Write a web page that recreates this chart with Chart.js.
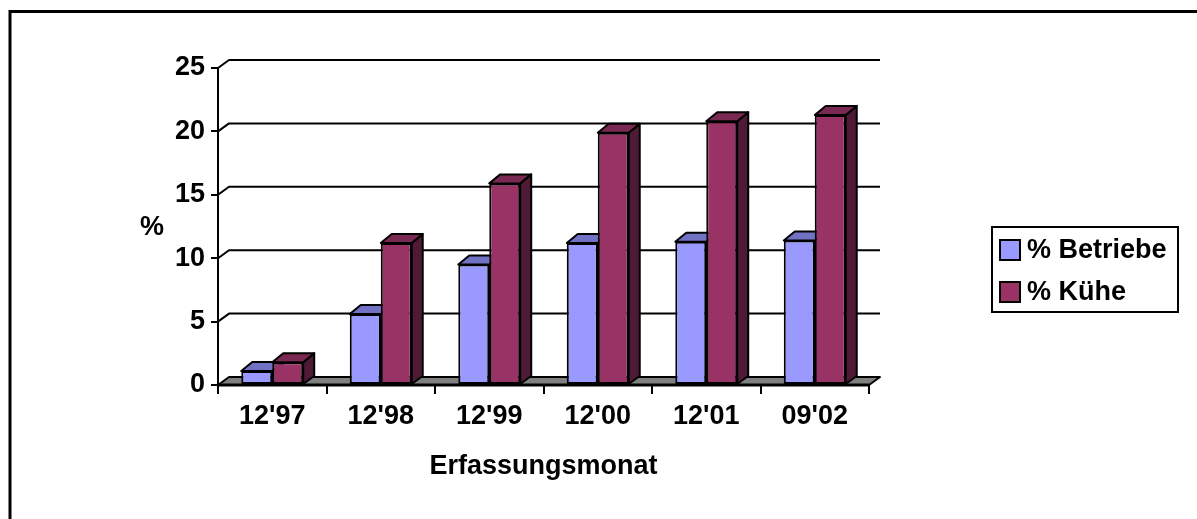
<!DOCTYPE html>
<html>
<head>
<meta charset="utf-8">
<script src="https://cdn.jsdelivr.net/npm/chart.js@4/dist/chart.umd.min.js"></script>
<style>
  body { margin: 0; background: #fff; }
  canvas { display: block; }
</style>
</head>
<body>
<canvas id="myChart" width="1197" height="519"></canvas>
<script>
'use strict';

// chart values
let months = ["12'97", "12'98", "12'99", "12'00", "12'01", "09'02"];
let betriebe = [1.1, 5.6, 9.5, 11.2, 11.3, 11.4];
let kuehe = [1.8, 11.2, 15.9, 19.9, 20.8, 21.3];
let seriesNames = ['% Betriebe', '% Kühe'];
let yTitle = '%';
let xTitle = 'Erfassungsmonat';

// look
let fontFamily = "'Liberation Sans', Arial, sans-serif";
let fontSize = 27;
let depthX = 11;
let depthY = 8;
let frontColors = ['#9999ff', '#993366'];
let topColors = ['#7272c4', '#7a2952'];
let sideColors = ['#5a5aa0', '#4f1a36'];

function drawShape(ctx, points, fill) {
  ctx.beginPath();
  ctx.moveTo(points[0][0], points[0][1]);
  for (let i = 1; i < points.length; i++) {
    ctx.lineTo(points[i][0], points[i][1]);
  }
  ctx.closePath();
  if (fill) {
    ctx.fillStyle = fill;
    ctx.fill();
  }
  ctx.stroke();
}

// floor, back wall and the 3d faces of the bars
let depthPlugin = {
  id: 'depth',
  beforeDatasetsDraw(chart) {
    let ctx = chart.ctx;
    let area = chart.chartArea;
    let yScale = chart.scales.y;
    ctx.save();
    ctx.strokeStyle = '#000';
    ctx.lineWidth = 2;
    ctx.lineJoin = 'round';

    drawShape(ctx, [
      [area.left, area.bottom],
      [area.right, area.bottom],
      [area.right + depthX, area.bottom - depthY],
      [area.left + depthX, area.bottom - depthY]
    ], '#808080');

    yScale.ticks.forEach(function (tick) {
      if (tick.value === 0) {
        return;
      }
      let y = yScale.getPixelForValue(tick.value);
      ctx.beginPath();
      ctx.moveTo(area.left, y);
      ctx.lineTo(area.left + depthX, y - depthY);
      ctx.lineTo(area.right + depthX, y - depthY);
      ctx.stroke();
    });

    ctx.lineWidth = 3;
    ctx.beginPath();
    ctx.moveTo(area.left, area.bottom);
    ctx.lineTo(area.right, area.bottom);
    ctx.stroke();

    ctx.lineWidth = 2;
    for (let i = 0; i < months.length; i++) {
      for (let d = 0; d < chart.data.datasets.length; d++) {
        let bar = chart.getDatasetMeta(d).data[i];
        let p = bar.getProps(['x', 'y', 'base', 'width'], true);
        let left = p.x - p.width / 2;
        let right = p.x + p.width / 2;
        drawShape(ctx, [
          [right, p.y],
          [right + depthX, p.y - depthY - 1],
          [right + depthX, p.base - depthY],
          [right, p.base]
        ], sideColors[d]);
        drawShape(ctx, [
          [left, p.y],
          [right, p.y],
          [right + depthX, p.y - depthY - 1],
          [left + depthX, p.y - depthY - 1]
        ], topColors[d]);
      }
    }
    ctx.restore();
  },
  afterDraw(chart) {
    let ctx = chart.ctx;
    ctx.save();
    ctx.strokeStyle = '#000';

    // outer frame
    ctx.lineWidth = 3;
    ctx.beginPath();
    ctx.moveTo(10, 519);
    ctx.lineTo(10, 11.5);
    ctx.lineTo(1197, 11.5);
    ctx.stroke();

    ctx.fillStyle = '#000';
    ctx.font = 'bold ' + fontSize + 'px ' + fontFamily;
    ctx.textAlign = 'center';
    ctx.textBaseline = 'middle';
    ctx.fillText(yTitle, 152, 228);

    // legend
    ctx.lineWidth = 2;
    ctx.strokeRect(992, 227, 186, 85);
    ctx.textAlign = 'left';
    let rowY = [250, 292];
    chart.data.datasets.forEach(function (ds, d) {
      ctx.fillStyle = ds.backgroundColor;
      ctx.fillRect(1000, rowY[d] - 10, 20, 20);
      ctx.strokeRect(1000, rowY[d] - 10, 20, 20);
      ctx.fillStyle = '#000';
      ctx.fillText(ds.label, 1027, rowY[d] + 1);
    });
    ctx.restore();
  }
};

let tickFont = { family: fontFamily, size: fontSize, weight: 'bold', lineHeight: 1.2 };

const ctx = document.getElementById('myChart');
const config = {
  type: 'bar',
  data: {
    labels: months,
    datasets: [
      {
        label: seriesNames[0],
        data: betriebe,
        backgroundColor: frontColors[0],
        borderColor: '#000',
        borderWidth: 2,
        borderSkipped: false
      },
      {
        label: seriesNames[1],
        data: kuehe,
        backgroundColor: frontColors[1],
        borderColor: '#000',
        borderWidth: 2,
        borderSkipped: false
      }
    ]
  },
  options: {
    responsive: false,
    animation: false,
    layout: {
      padding: { left: 0, top: 68, right: 328, bottom: 30 }
    },
    datasets: {
      bar: { categoryPercentage: 0.571, barPercentage: 1 }
    },
    plugins: {
      legend: { display: false },
      tooltip: { enabled: false }
    },
    scales: {
      x: {
        grid: {
          offset: true,
          drawOnChartArea: false,
          tickLength: 9,
          color: '#000',
          lineWidth: 2
        },
        border: { display: true, color: '#000', width: 2 },
        ticks: { color: '#000', font: tickFont, padding: 6, maxRotation: 0 },
        title: {
          display: true,
          text: xTitle,
          color: '#000',
          font: tickFont,
          padding: { top: 0, bottom: 6 }
        },
        afterFit: function (scale) {
          scale.height = 104;
        }
      },
      y: {
        min: 0,
        max: 25,
        ticks: { stepSize: 5, color: '#000', font: tickFont, padding: 6 },
        grid: {
          drawOnChartArea: false,
          tickLength: 7,
          color: '#000',
          lineWidth: 2
        },
        border: { display: true, color: '#000', width: 2 },
        afterFit: function (scale) {
          scale.width = 218;
        }
      }
    }
  },
  plugins: [depthPlugin]
};

new Chart(ctx, config);
</script>
</body>
</html>
